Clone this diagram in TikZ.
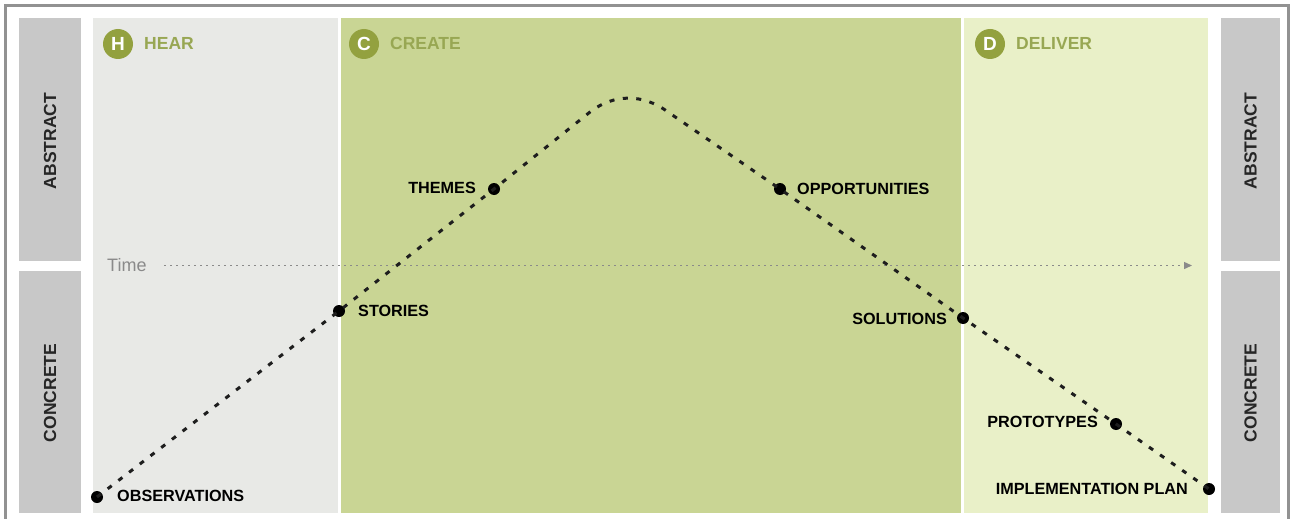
\documentclass[tikz,border=0pt]{standalone}
\usepackage{fontspec}
\setmainfont{Liberation Sans}
\usetikzlibrary{arrows.meta}
\definecolor{framegray}{HTML}{929292}
\definecolor{boxgray}{HTML}{C8C8C8}
\definecolor{hearbg}{HTML}{E8E9E6}
\definecolor{createbg}{HTML}{C9D594}
\definecolor{deliverbg}{HTML}{E9F0C8}
\definecolor{olive}{HTML}{93A13F}
\definecolor{olivetext}{HTML}{98A753}
\definecolor{timegray}{HTML}{8A8A8A}
\definecolor{curvecol}{HTML}{1E1E1E}
\tikzset{
  sidebox/.style={fill=boxgray, draw=none},
  sidelabel/.style={rotate=90, font=\bfseries\fontsize{17.5}{20}\selectfont, text=black!85, inner sep=0pt},
  phasecircle/.style={circle, fill=olive, minimum size=30pt, inner sep=0pt, text=white, font=\bfseries\fontsize{19}{20}\selectfont},
  phasetitle/.style={anchor=west, inner sep=0pt, text=olivetext, font=\bfseries\fontsize{17.5}{20}\selectfont},
  dotnode/.style={circle, fill=black, minimum size=12pt, inner sep=0pt},
  stagelabel/.style={inner sep=0pt, font=\bfseries\fontsize{16.2}{19}\selectfont, text=black},
  curveline/.style={draw=curvecol, line width=3pt, dash pattern=on 5pt off 8.5pt},
  timeline/.style={draw=timegray, line width=1.3pt, dash pattern=on 2pt off 4pt, -{Triangle[length=8pt,width=7pt]}}
}
\begin{document}
\begin{tikzpicture}[x=1pt,y=-1pt]
\useasboundingbox (0,0) rectangle (1295,519);
\fill[white] (0,0) rectangle (1295,519);
% outer frame
\draw[framegray, line width=3pt] (5.5,519) -- (5.5,5.5) -- (1288.5,5.5) -- (1288.5,519);
% side boxes
\fill[sidebox] (19,18) rectangle (81,261);
\fill[sidebox] (19,271) rectangle (81,513);
\fill[sidebox] (1221,18) rectangle (1280,261);
\fill[sidebox] (1221,271) rectangle (1280,513);
\node[sidelabel] (absL) at (50,141) {ABSTRACT};
\node[sidelabel] (conL) at (50,393) {CONCRETE};
\node[sidelabel] (absR) at (1250.5,141) {ABSTRACT};
\node[sidelabel] (conR) at (1250.5,393) {CONCRETE};
% phase panels
\fill[hearbg] (93,18) rectangle (338,513);
\fill[createbg] (341,18) rectangle (961,513);
\fill[deliverbg] (964,18) rectangle (1208,513);
% phase headers
\node[phasecircle] (hc) at (118,44) {H};
\node[phasetitle] (ht) at (144,43) {HEAR};
\node[phasecircle] (cc) at (364,44) {C};
\node[phasetitle] (ct) at (390,43) {CREATE};
\node[phasecircle] (dc) at (990,44) {D};
\node[phasetitle] (dt) at (1016,43) {DELIVER};
% time axis
\node[anchor=west, inner sep=0pt, text=timegray, font=\fontsize{18}{20}\selectfont] (time) at (107,265) {Time};
\coordinate (tstart) at (164,265.5);
\coordinate (tend) at (1192,265.5);
\draw[timeline] (tstart) -- (tend);
% stage points
\node[dotnode] (obs) at (97,497) {};
\node[dotnode] (sto) at (339,311) {};
\node[dotnode] (the) at (494,189) {};
\node[dotnode] (opp) at (780,189) {};
\node[dotnode] (sol) at (963,318) {};
\node[dotnode] (pro) at (1116,424) {};
\node[dotnode] (imp) at (1209,489) {};
\coordinate (pa) at (590,112);
\coordinate (ca) at (614,93.5);
\coordinate (cb) at (643,93.5);
\coordinate (pb) at (668,112);
\draw[curveline] (obs.center) -- (sto.center) -- (the.center) -- (pa) .. controls (ca) and (cb) .. (pb) -- (opp.center) -- (sol.center) -- (pro.center) -- (imp.center);
% labels
\node[stagelabel, anchor=west] (lobs) at (117,496) {OBSERVATIONS};
\node[stagelabel, anchor=west] (lsto) at (358,311) {STORIES};
\node[stagelabel, anchor=east] (lthe) at (476,188) {THEMES};
\node[stagelabel, anchor=west] (lopp) at (797,189) {OPPORTUNITIES};
\node[stagelabel, anchor=east] (lsol) at (947,319) {SOLUTIONS};
\node[stagelabel, anchor=east] (lpro) at (1098,422) {PROTOTYPES};
\node[stagelabel, anchor=east] (limp) at (1188,489) {IMPLEMENTATION PLAN};
\end{tikzpicture}
\end{document}
